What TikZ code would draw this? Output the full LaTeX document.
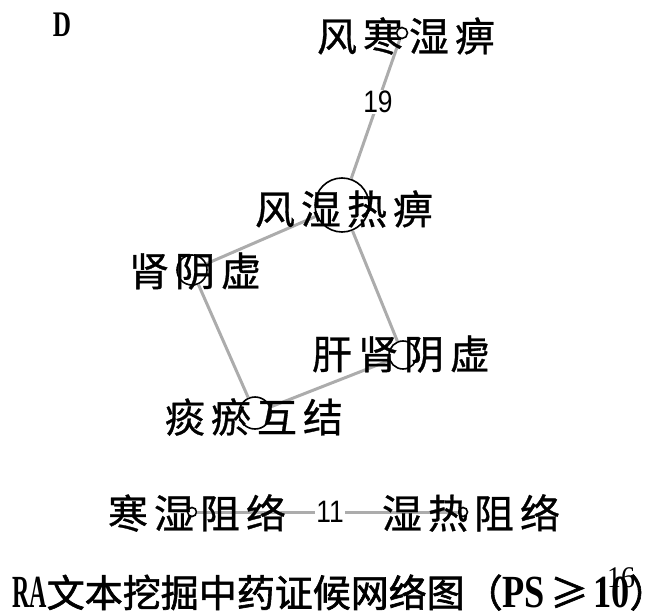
\documentclass[tikz,border=0pt]{standalone}
\usepackage{fontspec}
\setmainfont{Liberation Serif}
\newfontfamily\cjk[FakeBold=0.8]{Noto Sans CJK SC}
\newfontfamily\cjkt[FakeBold=1.6]{Noto Sans CJK SC}
\newfontfamily\arialn[FakeStretch=0.85]{Liberation Sans}
\newfontfamily\latA[FakeStretch=0.52]{Liberation Serif}
\newfontfamily\latB[FakeStretch=0.79]{Liberation Serif}
\newfontfamily\latD[FakeStretch=0.7]{Liberation Serif}
\newfontfamily\latS[FakeStretch=0.93]{Liberation Serif}
\newcommand{\gp}{\hspace{6pt}}
\newcommand{\lat}[2]{{#1\bfseries\fontsize{46}{46}\selectfont #2}}
\begin{document}
\begin{tikzpicture}[x=1pt,y=-1pt,
  vert/.style={circle, draw=black, line width=1.6pt, fill=white, inner sep=0pt},
  lbl/.style={font=\cjk\fontsize{40}{40}\selectfont, inner sep=0pt, text=black},
  edge/.style={draw=gray!65, line width=3pt},
  wlbl/.style={font=\arialn\fontsize{31}{31}\selectfont, fill=white, inner sep=1pt}]
\useasboundingbox (0,0) rectangle (669,615);
% vertices
\node[vert, minimum size=11pt] (v1) at (402,33) {};
\node[vert, minimum size=54pt] (v2) at (342,205) {};
\node[vert, minimum size=30pt] (v3) at (192,270) {};
\node[vert, minimum size=28pt] (v4) at (403,355) {};
\node[vert, minimum size=32pt] (v5) at (255,413) {};
\node[vert, minimum size=9pt] (v6) at (192,512) {};
\node[vert, minimum size=9pt] (v7) at (463,512) {};
% edges
\draw[edge] (v1) -- node[wlbl, pos=0.45, text=black] (e19) {19} (v2);
\draw[edge] (v2) -- (v3);
\draw[edge] (v2) -- (v4);
\draw[edge] (v3) -- (v5);
\draw[edge] (v4) -- (v5);
\draw[edge] (v6) -- node[wlbl, pos=0.51, text=black] (e11) {11} (v7);
% labels
\node[lbl] (l1) at (406,36) {风\gp 寒\gp 湿\gp 痹};
\node[lbl] (l2) at (344,209) {风\gp 湿\gp 热\gp 痹};
\node[lbl] (l3) at (195,271) {肾\gp 阴\gp 虚};
\node[lbl] (l4) at (401,354) {肝\gp 肾\gp 阴\gp 虚};
\node[lbl] (l5) at (254,417) {痰\gp 瘀\gp 互\gp 结};
\node[lbl] (l6) at (197,513) {寒\gp 湿\gp 阻\gp 络};
\node[lbl] (l7) at (471,513) {湿\gp 热\gp 阻\gp 络};
% panel letter
\node[font=\latD\bfseries\fontsize{36}{36}\selectfont, inner sep=0pt, anchor=base] (pd) at (62,37) {D};
% title
\node[font=\cjkt\fontsize{38}{38}\selectfont, inner sep=0pt, anchor=base west] (title) at (12,607)
  {\lat{\latA}{RA}文本挖掘中药证候网络图（\lat{\latB}{PS}\hspace{5pt}≥\hspace{5pt}\lat{\latB}{10}）\hspace{-16pt}};
\node[font=\latS\fontsize{30}{30}\selectfont, inner sep=0pt, anchor=base] (n16) at (621,587) {16};
\end{tikzpicture}
\end{document}
